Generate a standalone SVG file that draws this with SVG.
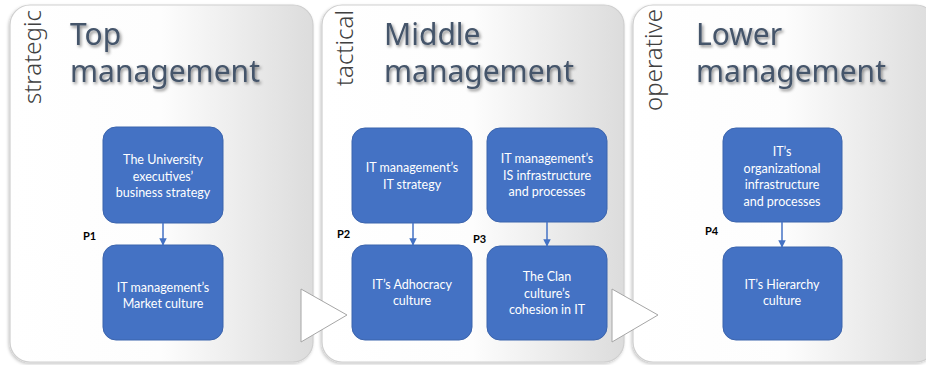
<svg xmlns="http://www.w3.org/2000/svg" width="926" height="365" viewBox="0 0 926 365">
  <defs>
    <linearGradient id="panelFill" x1="0" y1="0" x2="1" y2="0">
      <stop offset="0" stop-color="#ffffff"/>
      <stop offset="0.5" stop-color="#fdfdfd"/>
      <stop offset="1" stop-color="#dcdcdc"/>
    </linearGradient>
    <filter id="panelShadow" x="-5%" y="-5%" width="110%" height="110%">
      <feDropShadow dx="-1" dy="1.5" stdDeviation="1.5" flood-color="#000" flood-opacity="0.22"/>
    </filter>
    <filter id="titleShadow" x="-10%" y="-20%" width="120%" height="150%">
      <feDropShadow dx="1.5" dy="2" stdDeviation="1.6" flood-color="#000" flood-opacity="0.45"/>
    </filter>
    <marker id="arrow" viewBox="0 0 10 10" refX="9" refY="5" markerWidth="5" markerHeight="5" orient="auto">
      <path d="M0,0 L10,5 L0,10 z" fill="#4472c4"/>
    </marker>
  </defs>
  <style>
    .panel { fill: url(#panelFill); stroke: #cfcfcf; stroke-width: 1.2; filter: url(#panelShadow); }
    .level { font-family: "Noto Sans", "Open Sans", sans-serif; font-size: 24px; font-weight: 300; fill: #404040; }
    .title { font-family: "Noto Sans", "Open Sans", sans-serif; font-size: 30px; fill: #44546a; filter: url(#titleShadow); }
    .node rect { fill: #4472c4; stroke: #3b64ad; stroke-width: 1; }
    .node text { font-family: Lato, "Liberation Sans", sans-serif; font-size: 12.5px; fill: #ffffff; text-anchor: middle; }
    .plabel { font-family: Lato, "Liberation Sans", sans-serif; font-size: 11px; font-weight: bold; fill: #000000; }
    .chev { fill: #ffffff; stroke: #a6a6a6; stroke-width: 1; }
    .conn line { stroke: #4472c4; stroke-width: 1.5; marker-end: url(#arrow); }
  </style>

  <!-- background -->
  <rect x="0" y="0" width="926" height="365" fill="#ffffff"/>

  <!-- management level panels -->
  <g id="panel-top">
    <rect class="panel" x="10" y="5" width="303" height="357" rx="20"/>
    <text class="level" transform="translate(41,10) rotate(-90)" text-anchor="end">strategic</text>
    <text class="title" x="70" y="45">Top</text>
    <text class="title" x="70" y="82">management</text>
  </g>
  <g id="panel-middle">
    <rect class="panel" x="322" y="5" width="302" height="357" rx="20"/>
    <text class="level" transform="translate(353,10) rotate(-90)" text-anchor="end">tactical</text>
    <text class="title" x="384" y="45">Middle</text>
    <text class="title" x="384" y="82">management</text>
  </g>
  <g id="panel-lower">
    <rect class="panel" x="633" y="5" width="303" height="357" rx="20"/>
    <text class="level" transform="translate(662,9) rotate(-90)" text-anchor="end">operative</text>
    <text class="title" x="696" y="45">Lower</text>
    <text class="title" x="696" y="82">management</text>
  </g>

  <!-- chevrons between levels -->
  <polygon class="chev" points="301,289 347,315 301,342"/>
  <polygon class="chev" points="612,289 658,315 612,342"/>

  <!-- nodes: top management -->
  <g id="n-business-strategy" class="node">
    <rect x="103" y="127" width="120" height="96" rx="13"/>
    <text x="163" y="164">The University</text>
    <text x="163" y="181">executives’</text>
    <text x="163" y="197">business strategy</text>
  </g>
  <g id="n-market-culture" class="node">
    <rect x="103" y="245" width="120" height="95" rx="13"/>
    <text x="163" y="292">IT management’s</text>
    <text x="163" y="308">Market culture</text>
  </g>

  <!-- nodes: middle management -->
  <g id="n-it-strategy" class="node">
    <rect x="352" y="128" width="120" height="95" rx="13"/>
    <text x="412" y="172">IT management’s</text>
    <text x="412" y="189">IT strategy</text>
  </g>
  <g id="n-adhocracy" class="node">
    <rect x="352" y="245" width="120" height="95" rx="13"/>
    <text x="412" y="289">IT’s Adhocracy</text>
    <text x="412" y="305">culture</text>
  </g>
  <g id="n-is-infrastructure" class="node">
    <rect x="487" y="128" width="120" height="94" rx="13"/>
    <text x="547" y="163">IT management’s</text>
    <text x="547" y="180">IS infrastructure</text>
    <text x="547" y="196">and processes</text>
  </g>
  <g id="n-clan" class="node">
    <rect x="487" y="246" width="120" height="94" rx="13"/>
    <text x="547" y="281">The Clan</text>
    <text x="547" y="298">culture’s</text>
    <text x="547" y="314">cohesion in IT</text>
  </g>

  <!-- nodes: lower management -->
  <g id="n-org-infrastructure" class="node">
    <rect x="723" y="128" width="119" height="94" rx="13"/>
    <text x="782" y="156">IT’s</text>
    <text x="782" y="173">organizational</text>
    <text x="782" y="189">infrastructure</text>
    <text x="782" y="206">and processes</text>
  </g>
  <g id="n-hierarchy" class="node">
    <rect x="723" y="247" width="119" height="93" rx="13"/>
    <text x="782" y="289">IT’s Hierarchy</text>
    <text x="782" y="305">culture</text>
  </g>

  <!-- connectors -->
  <g id="connectors" class="conn">
    <line x1="163" y1="223" x2="163" y2="245"/>
    <line x1="413" y1="223" x2="413" y2="245"/>
    <line x1="547" y1="222" x2="547" y2="246"/>
    <line x1="782" y1="222" x2="782" y2="247"/>
  </g>

  <!-- proposition labels -->
  <text class="plabel" x="83" y="240">P1</text>
  <text class="plabel" x="337" y="238">P2</text>
  <text class="plabel" x="473" y="243">P3</text>
  <text class="plabel" x="705" y="235">P4</text>
</svg>
